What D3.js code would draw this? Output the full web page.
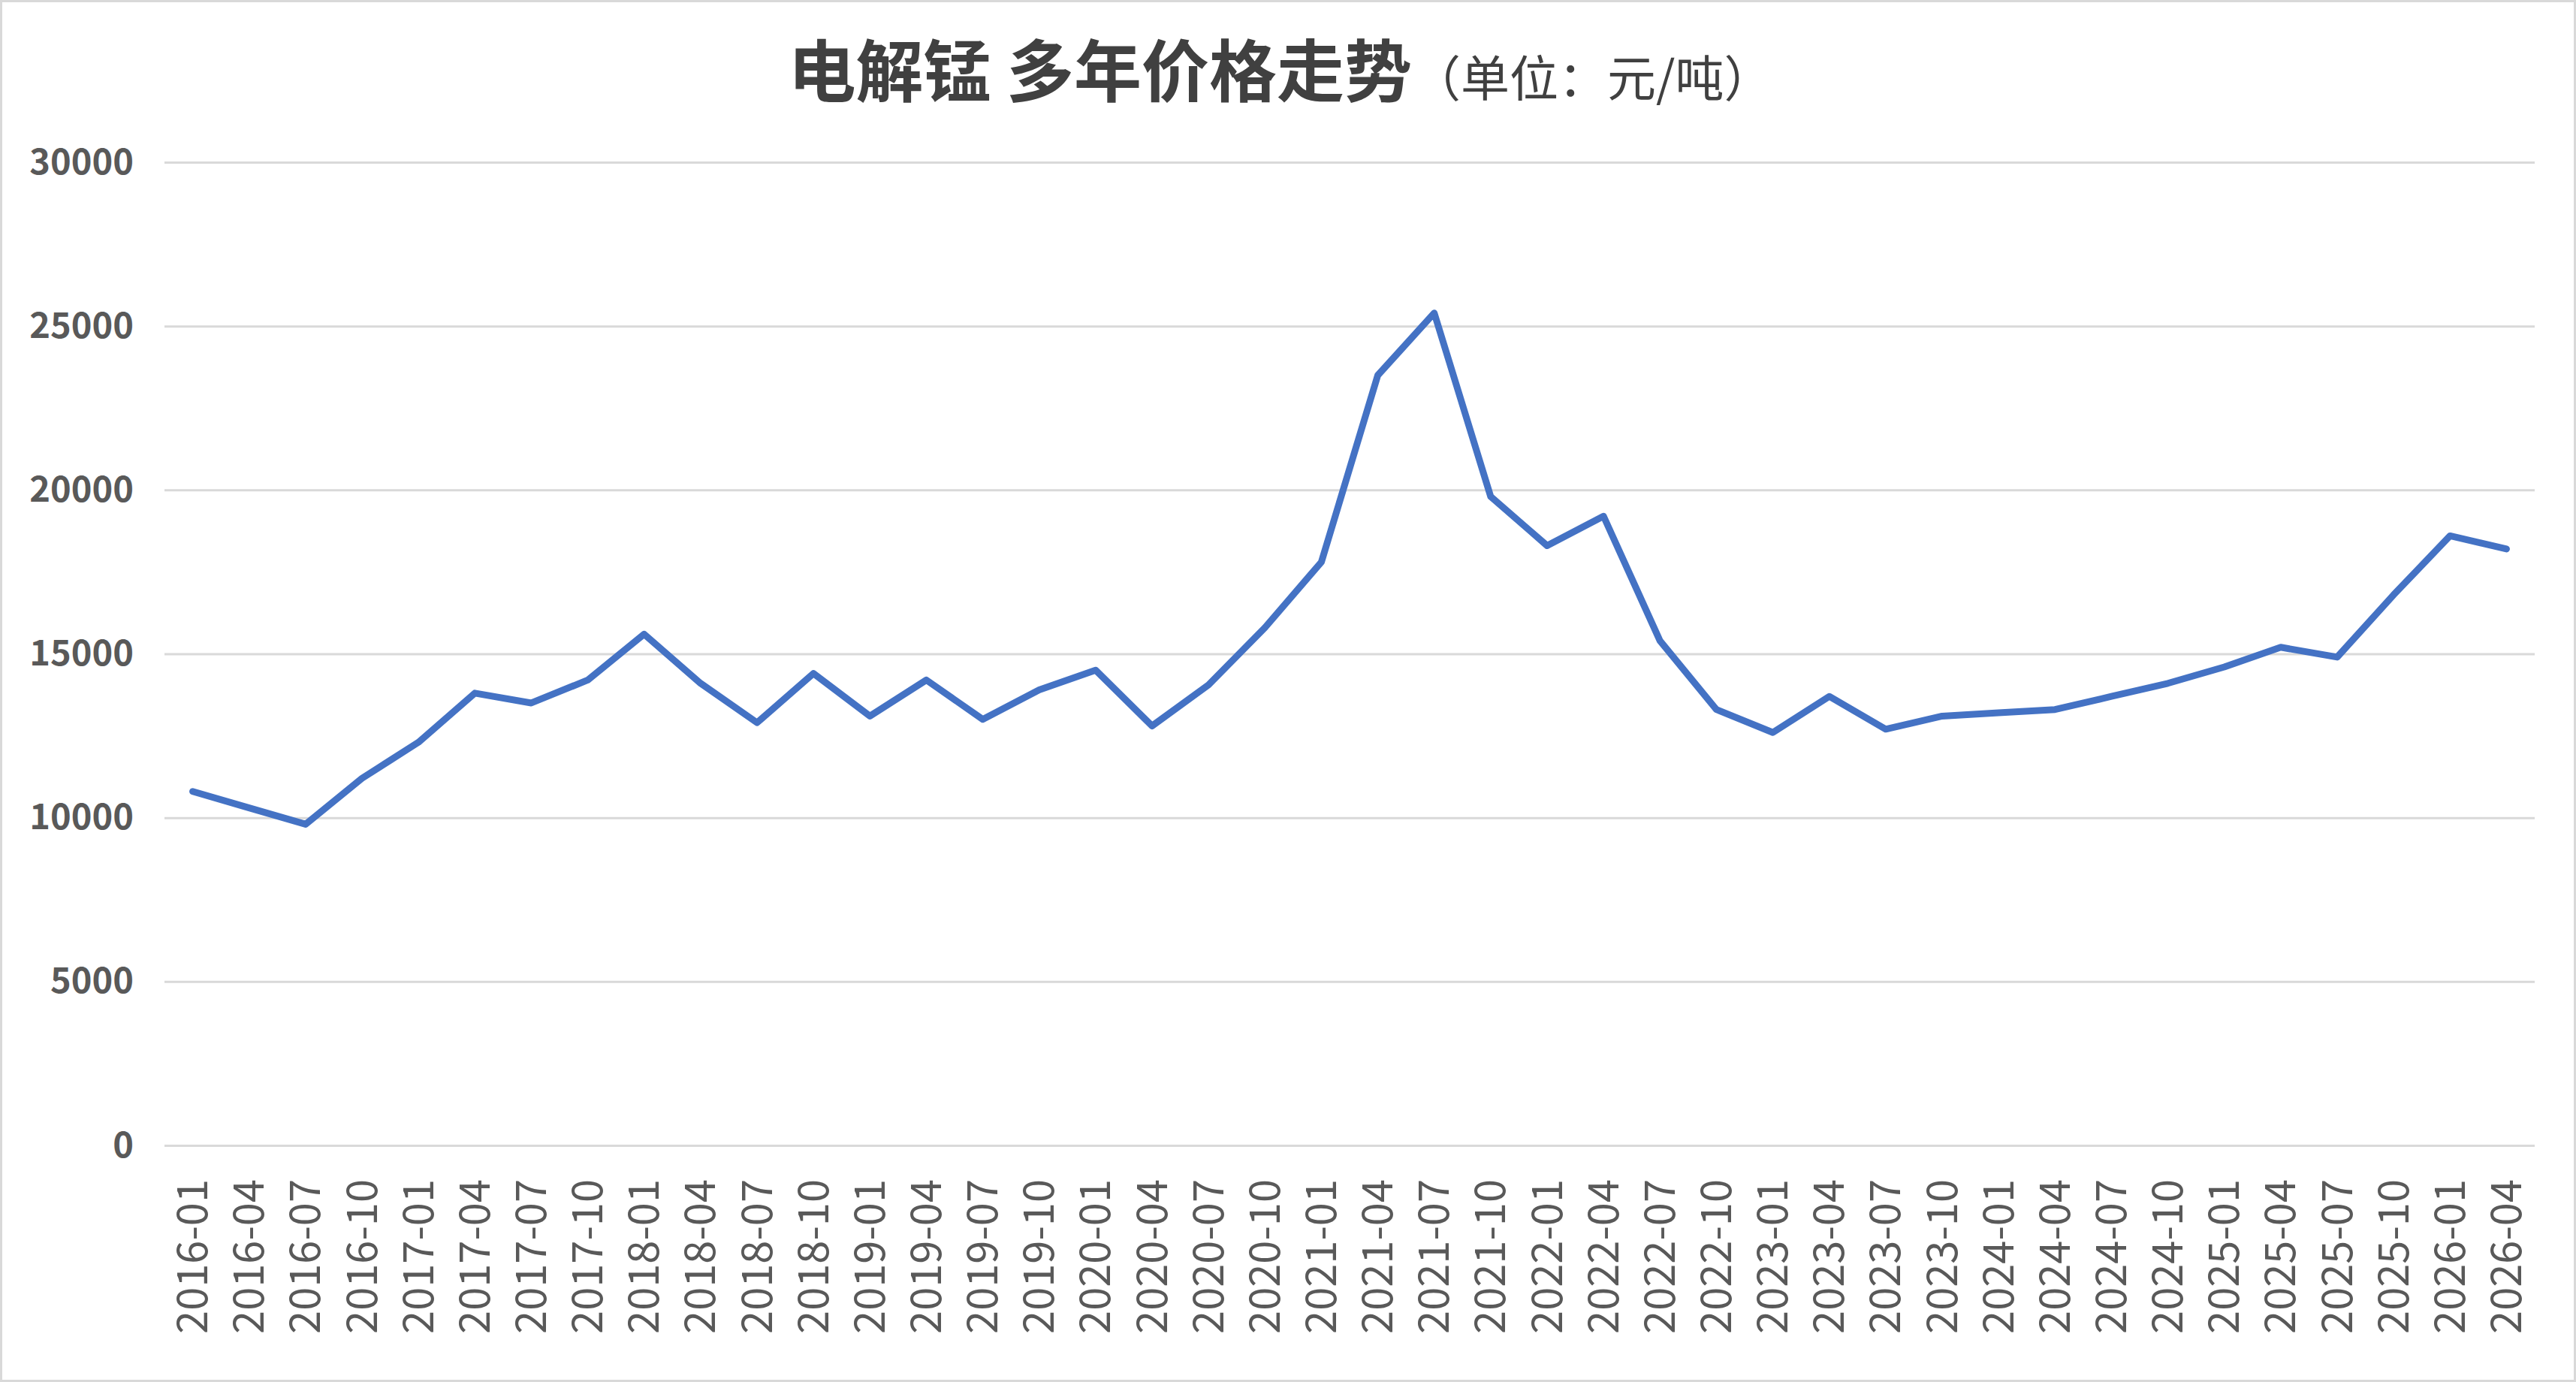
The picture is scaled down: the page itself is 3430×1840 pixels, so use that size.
<!DOCTYPE html>
<html>
<head>
<meta charset="utf-8">
<script src="https://cdn.jsdelivr.net/npm/d3@7"></script>
<style>
  body { margin: 0; background: #fff; }
</style>
</head>
<body>
<div id="chart"></div>
<script>
  const categories = ['2016-01', '2016-04', '2016-07', '2016-10', '2017-01', '2017-04', '2017-07', '2017-10',
    '2018-01', '2018-04', '2018-07', '2018-10', '2019-01', '2019-04', '2019-07', '2019-10',
    '2020-01', '2020-04', '2020-07', '2020-10', '2021-01', '2021-04', '2021-07', '2021-10',
    '2022-01', '2022-04', '2022-07', '2022-10', '2023-01', '2023-04', '2023-07', '2023-10',
    '2024-01', '2024-04', '2024-07', '2024-10', '2025-01', '2025-04', '2025-07', '2025-10',
    '2026-01', '2026-04'];
  const prices = [10800, 10300, 9800, 11200, 12300, 13800, 13500, 14200,
    15600, 14100, 12900, 14400, 13100, 14200, 13000, 13900,
    14500, 12800, 14050, 15800, 17800, 23500, 25400, 19800,
    18300, 19200, 15400, 13300, 12600, 13700, 12700, 13100,
    13200, 13300, 13700, 14100, 14600, 15200, 14900, 16800,
    18600, 18200];
  const yTicks = [0, 5000, 10000, 15000, 20000, 25000, 30000];
  const titleMain = '电解锰 多年价格走势';
  const titleUnit = '（单位：元/吨）';

  const width = 3430;
  const height = 1840;
  const [mt, mr, mb, ml] = [216, 55, 315, 219];

  const svg = d3.select('#chart')
    .append('svg')
    .attr('width', width)
    .attr('height', height)
    .attr('viewBox', [0, 0, width, height]);

  // outer frame
  svg.append('rect')
    .attr('x', 1.5).attr('y', 1.5)
    .attr('width', width - 3).attr('height', height - 3)
    .attr('fill', '#fff')
    .attr('stroke', '#d9d9d9')
    .attr('stroke-width', 3);

  const graphWidth = width - ml - mr;
  const graphHeight = height - mt - mb;

  const graph = svg.append('g')
    .attr('transform', `translate(${ml},${mt})`);

  const x = d3.scaleBand()
    .domain(categories)
    .range([0, graphWidth])
    .padding(0);

  const y = d3.scaleLinear()
    .domain([0, 30000])
    .range([graphHeight, 0]);

  // y axis + gridlines
  const yAxisG = graph.append('g')
    .call(d3.axisLeft(y).tickValues(yTicks).tickSize(-graphWidth).tickPadding(41).tickFormat(d3.format('d')));
  yAxisG.select('.domain').remove();
  yAxisG.selectAll('.tick line')
    .attr('stroke', '#d9d9d9')
    .attr('stroke-width', 3);
  yAxisG.selectAll('.tick text')
    .attr('fill', '#595959')
    .style('font-family', '"Noto Sans CJK SC", "Noto Sans", sans-serif')
    .style('font-weight', 'bold')
    .style('font-size', '47px');

  // x axis
  const xAxisG = graph.append('g')
    .attr('transform', `translate(0,${graphHeight})`)
    .call(d3.axisBottom(x).tickSize(0));
  xAxisG.select('.domain').remove();
  xAxisG.selectAll('.tick text')
    .attr('transform', 'rotate(-90)')
    .attr('text-anchor', 'end')
    .attr('x', -45)
    .attr('y', 0)
    .attr('dy', '0.35em')
    .attr('fill', '#595959')
    .style('font-family', '"Noto Sans CJK SC", "Noto Sans", sans-serif')
    .style('font-size', '56px');

  // price line
  const line = d3.line()
    .x((d, i) => x(categories[i]) + x.bandwidth() / 2)
    .y(d => y(d));

  graph.append('path')
    .datum(prices)
    .attr('fill', 'none')
    .attr('stroke', '#4472c4')
    .attr('stroke-width', 9)
    .attr('stroke-linejoin', 'round')
    .attr('stroke-linecap', 'round')
    .attr('d', line);

  // title
  const title = svg.append('text')
    .attr('x', 1705)
    .attr('y', 128)
    .attr('text-anchor', 'middle')
    .attr('fill', '#404040')
    .style('font-family', '"Noto Sans CJK SC", sans-serif');
  title.append('tspan')
    .style('font-size', '90px')
    .style('font-weight', 'bold')
    .text(titleMain);
  title.append('tspan')
    .style('font-size', '65px')
    .text(titleUnit);
</script>
</body>
</html>
